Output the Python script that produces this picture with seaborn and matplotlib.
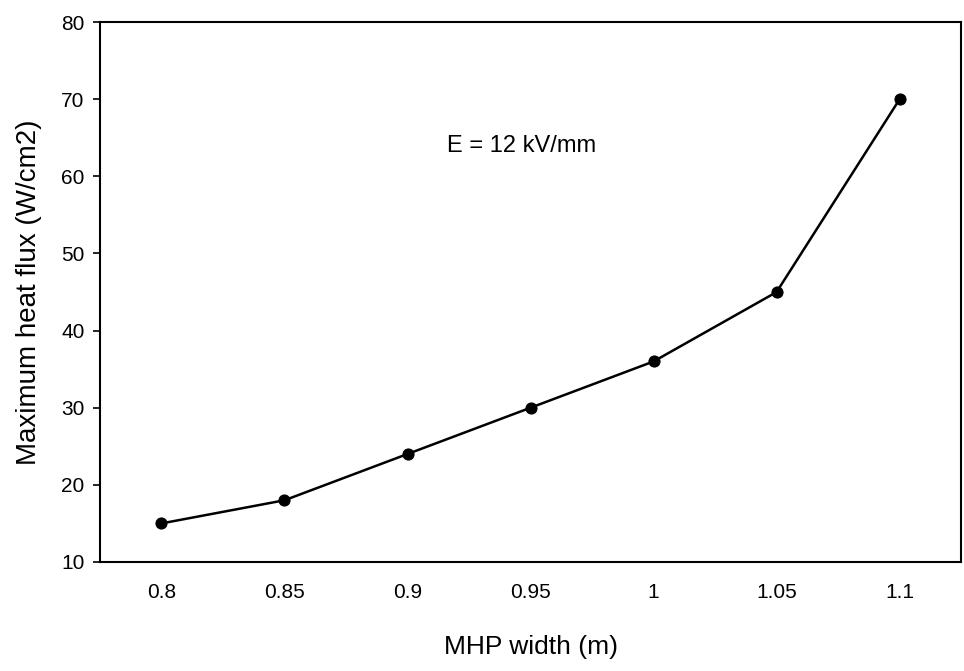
import numpy as np
import pandas as pd
import matplotlib.pyplot as plt
import seaborn as sns

sns.set_theme(style = "white")
plt.rcParams['font.family'] = ['Liberation Sans', 'DejaVu Sans']
plt.rcParams['text.color'] = 'black'
plt.rcParams['axes.labelcolor'] = 'black'
plt.rcParams['xtick.color'] = 'black'
plt.rcParams['ytick.color'] = 'black'

# datos
anchos = ["0.8", "0.85", "0.9", "0.95", "1", "1.05", "1.1"]
flujo = [15, 18, 24, 30, 36, 45, 70]

df = pd.DataFrame({'ancho': anchos, 'flujo': flujo})

fig = plt.figure(figsize = (9.64, 6.71), dpi = 100)
ax = fig.add_axes([0.1037, 0.1625, 0.8933, 0.8045])

sns.lineplot(data = df, x = 'ancho', y = 'flujo', color = 'black', linewidth = 1.8,
             marker = 'o', markersize = 8, markeredgecolor = 'black', ax = ax)

ax.set_xlim(-0.5, len(anchos) - 0.5)
ax.set_ylim(10, 80)
ax.set_yticks(range(10, 81, 10))

# ticks entre categorias (estilo Excel)
ax.set_xticks(np.arange(len(anchos)))
ax.set_xticklabels(anchos)
ax.set_xticks(np.arange(-0.5, len(anchos)), minor = True)
ax.tick_params(axis = 'x', which = 'major', length = 0, pad = 15, labelsize = 15)
ax.tick_params(axis = 'x', which = 'minor', length = 5, width = 1.2, color = 'black', direction = 'out')
ax.tick_params(axis = 'y', length = 5, width = 1.2, color = 'black', direction = 'out', pad = 6, labelsize = 15, left = True)

for s in ax.spines.values():
    s.set_color('black')
    s.set_linewidth(1.5)

ax.text(2.93, 64, "E = 12 kV/mm", fontsize = 17, ha = 'center', va = 'center')

ax.set_xlabel("MHP width (m)", fontsize = 19, labelpad = 24)
ax.set_ylabel("Maximum heat flux (W/cm2)", fontsize = 20, labelpad = 14)

fig.savefig("out.png", dpi = 100)
